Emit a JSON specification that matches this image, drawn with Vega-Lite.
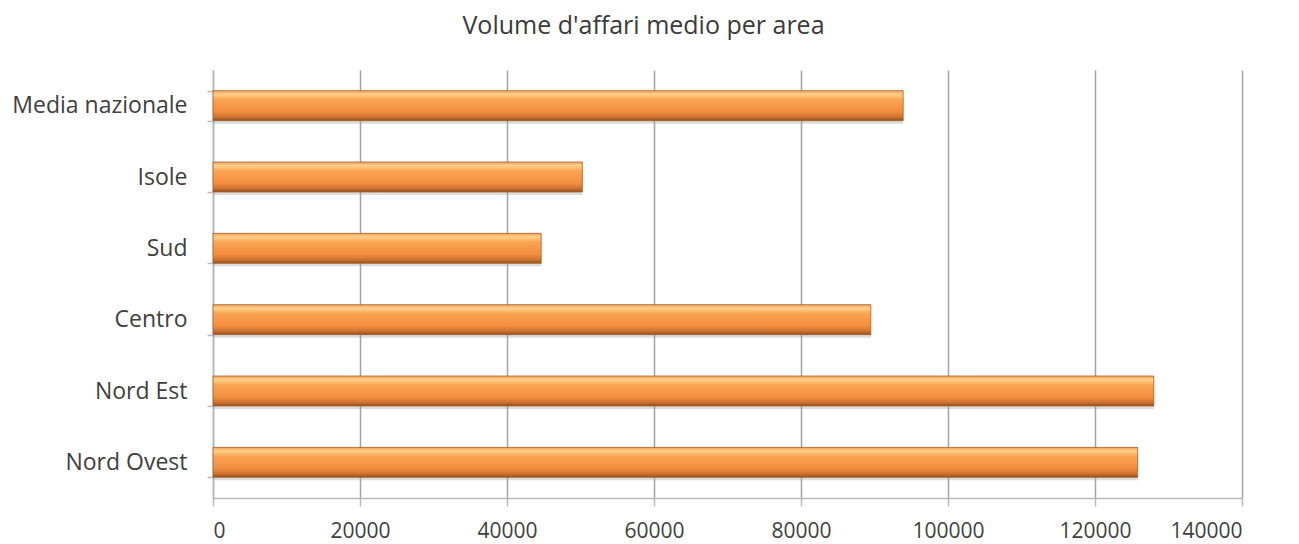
{
  "$schema": "https://vega.github.io/schema/vega-lite/v6.json",
  "width": 1029,
  "height": 428,
  "autosize": {"type": "none"},
  "padding": {"left": 213, "top": 70, "right": 57, "bottom": 46},
  "background": "white",
  "title": {
    "text": "Volume d'affari medio per area",
    "font": "Open Sans",
    "fontSize": 25,
    "fontWeight": "normal",
    "color": "#3a3a3a",
    "anchor": "middle",
    "dx": -84,
    "offset": 20
  },
  "config": {
    "view": {"stroke": null},
    "axis": {
      "labelFont": "Open Sans",
      "labelColor": "#404040",
      "domainColor": "#b8b8b8",
      "tickColor": "#b8b8b8",
      "domainWidth": 1.5,
      "tickWidth": 1.5
    }
  },
  "data": {
    "values": [
      {"area": "Media nazionale", "volume": 93900},
      {"area": "Isole", "volume": 50250},
      {"area": "Sud", "volume": 44650},
      {"area": "Centro", "volume": 89500},
      {"area": "Nord Est", "volume": 128000},
      {"area": "Nord Ovest", "volume": 125800}
    ]
  },
  "encoding": {
    "y": {
      "field": "area",
      "type": "nominal",
      "sort": null,
      "scale": {"paddingInner": 0.58, "paddingOuter": 0.29},
      "axis": {
        "title": null,
        "labelFontSize": 23,
        "labelPadding": 20,
        "tickSize": 6,
        "tickBand": "extent",
        "grid": false
      }
    },
    "x": {
      "field": "volume",
      "type": "quantitative",
      "scale": {"domain": [0, 140000], "nice": false},
      "axis": {
        "title": null,
        "values": [0, 20000, 40000, 60000, 80000, 100000, 120000, 140000],
        "format": "d",
        "labelFontSize": 21,
        "labelPadding": 14,
        "tickSize": 8,
        "grid": true,
        "gridColor": "#a0a4a8",
        "gridWidth": 1.5
      }
    }
  },
  "layer": [
    {
      "mark": {
        "type": "bar",
        "yOffset": 3,
        "x2Offset": 3,
        "color": "#9a9a9a",
        "opacity": 0.35
      }
    },
    {
      "mark": {
        "type": "bar",
        "stroke": "#a8602a",
        "strokeWidth": 0.8,
        "color": {
          "gradient": "linear",
          "x1": 0, "y1": 0, "x2": 0, "y2": 1,
          "stops": [
            {"offset": 0, "color": "#f4a05a"},
            {"offset": 0.12, "color": "#fdd089"},
            {"offset": 0.3, "color": "#f9a452"},
            {"offset": 0.7, "color": "#f38e3e"},
            {"offset": 0.88, "color": "#cf7230"},
            {"offset": 1, "color": "#8f4f1f"}
          ]
        }
      }
    }
  ]
}
